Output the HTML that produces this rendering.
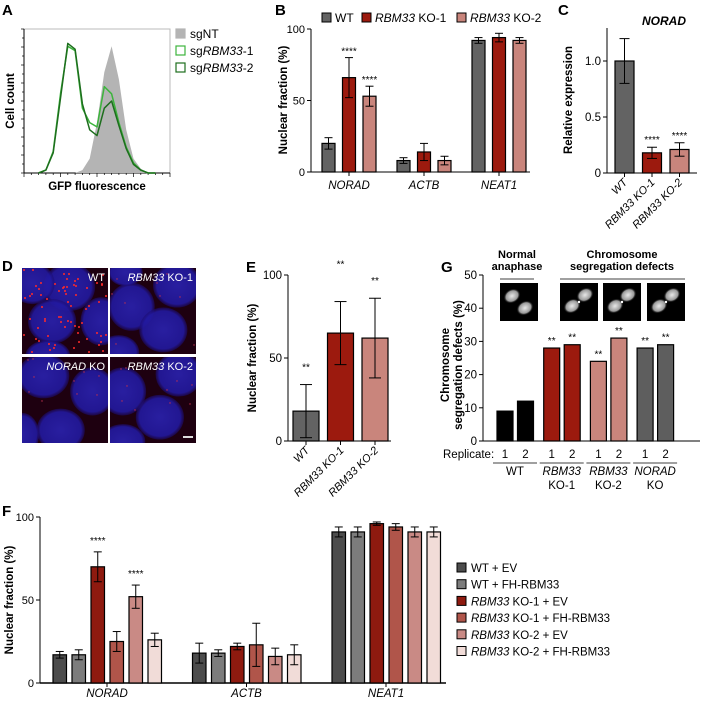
<!DOCTYPE html>
<html><head><meta charset="utf-8"><style>
html,body{margin:0;padding:0;background:#fff;}
svg{display:block;font-family:"Liberation Sans",Arial,sans-serif;}
</style></head><body>
<svg id="fig" width="704" height="702" viewBox="0 0 704 702" xmlns="http://www.w3.org/2000/svg">
<defs>
<radialGradient id="nuc" cx="50%" cy="50%" r="50%"><stop offset="0" stop-color="#2a22b0"/><stop offset="0.85" stop-color="#2219a0"/><stop offset="1" stop-color="#1c0c70" stop-opacity="0.6"/></radialGradient>
<radialGradient id="chr" cx="50%" cy="50%" r="50%"><stop offset="0" stop-color="#e8e8e8"/><stop offset="0.7" stop-color="#9a9a9a"/><stop offset="1" stop-color="#000" stop-opacity="0"/></radialGradient>
</defs>
<g font-weight="bold" font-size="15">
<text x="2" y="15">A</text>
<text x="275" y="15">B</text>
<text x="558" y="15">C</text>
<text x="2" y="271">D</text>
<text x="246" y="272">E</text>
<text x="441" y="272">G</text>
<text x="2" y="516">F</text>
</g>
</svg>
<script>
// ---------- data ----------
const aBins = [50,55,60,65,70,75,80,85,90,95,100,105,110,115,120,125,130];
const aSgNT = [0,0,0,0,0,0,2,10,35,70,88,65,30,10,3,0,0];
const aSg1  = [0,2,15,55,88,85,45,35,32,60,55,35,18,7,2,0,0];
const aSg2  = [0,2,14,52,90,86,48,30,26,45,50,33,17,6,2,0,0];

const bGenes = ['NORAD','ACTB','NEAT1'];
const bWT  = [20,8,92];
const bKO1 = [66,14,94];
const bKO2 = [53,8,92];
const bErrWT  = [4,2,2];
const bErrKO1 = [14,6,3];
const bErrKO2 = [7,3,2];
const bTicks = [0,50,100];

const cCats = ['WT','RBM33 KO-1','RBM33 KO-2'];
const cVals = [1.0,0.18,0.21];
const cErr  = [0.2,0.05,0.06];
const cTicks = [0,0.5,1.0];
const cTickLabels = ['0','0.5','1.0'];

const eCats = ['WT','RBM33 KO-1','RBM33 KO-2'];
const eVals = [18,65,62];
const eErr  = [16,19,24];
const eTicks = [0,50,100];

const gGroups = ['WT','RBM33 KO-1','RBM33 KO-2','NORAD KO'];
const gRep1 = [9,28,24,28];
const gRep2 = [12,29,31,29];
const gStar1 = ['','**','**','**'];
const gStar2 = ['','**','**','**'];
const gTicks = [0,10,20,30,40,50];

const fGenes = ['NORAD','ACTB','NEAT1'];
const fSeries = ['WT + EV','WT + FH-RBM33','RBM33 KO-1 + EV','RBM33 KO-1 + FH-RBM33','RBM33 KO-2 + EV','RBM33 KO-2 + FH-RBM33'];
const fNORAD = [17,17,70,25,52,26];
const fACTB  = [18,18,22,23,16,17];
const fNEAT1 = [91,91,96,94,91,91];
const fErrNORAD = [2,3,9,6,7,4];
const fErrACTB  = [6,2,2,13,5,6];
const fErrNEAT1 = [3,3,1,2,3,3];
const fTicks = [0,50,100];

// ---------- helpers ----------
const NS='http://www.w3.org/2000/svg';
const svg=document.getElementById('fig');
function mk(tag,attrs,parent){const e=document.createElementNS(NS,tag);for(const k in attrs)e.setAttribute(k,attrs[k]);(parent||svg).appendChild(e);return e;}
function line(x1,y1,x2,y2,name,w){const l=mk('line',{x1,y1,x2,y2,stroke:'#000','stroke-width':w||1});


return l;}
function txt(x,y,s,name,opt){const t=mk('text',Object.assign({x,y,'font-size':11},opt||{}));t.textContent=s;


return t;}
function richTxt(x,y,parts,name,opt){const t=mk('text',Object.assign({x,y,'font-size':11},opt||{}));
parts.forEach(p=>{const ts=mk('tspan',p[1]?{'font-style':'italic'}:{},t);ts.textContent=p[0];});


return t;}
function bar(x,y0,y1,w,fill,name){const r=mk('rect',{x,y:Math.min(y0,y1),width:w,height:Math.abs(y1-y0),fill,stroke:'#000','stroke-width':1.2});


return r;}
function err(cx,yLo,yHi,cap,name){const g=mk('g',{});


mk('line',{x1:cx,y1:yLo,x2:cx,y2:yHi,stroke:'#000','stroke-width':1},g);
mk('line',{x1:cx-cap,y1:yHi,x2:cx+cap,y2:yHi,stroke:'#000','stroke-width':1},g);
mk('line',{x1:cx-cap,y1:yLo,x2:cx+cap,y2:yLo,stroke:'#000','stroke-width':1},g);return g;}
function label(lbl){const it=lbl.startsWith('RBM33')||lbl.startsWith('NORAD');if(!it)return [[lbl,false]];const i=lbl.indexOf(' ');return [[lbl.slice(0,i),true],[lbl.slice(i),false]];}

// ---------- Panel A ----------
(function(){
const x0=24,x1=170,yb=173,yt=29;
const xA=v=>x0+(v-40)/(140-40)*(x1-x0);
const yA=v=>yb-v/100*(yb-yt);
const box=mk('rect',{x:x0,y:yt,width:x1-x0,height:yb-yt,fill:'none',stroke:'#bbb','stroke-width':1});


line(x0,yt,x0,yb,'a-y-axis');line(x0,yb,x1,yb,'a-x-axis');
for(let i=0;i<=16;i++){line(x0-(i%2?2:3),yt+i*9,x0,yt+i*9,'a-y-tick',0.7);}
for(let i=0;i<=20;i++){const xx=x0+i*7.3;line(xx,yb,xx,yb+(i%5==0?4:2),'a-x-tick',0.7);}
function pathOf(vals){let d='';vals.forEach((v,i)=>{d+=(i?'L':'M')+xA(aBins[i]).toFixed(1)+','+yA(v).toFixed(1);});return d;}
const pg=mk('path',{d:pathOf(aSgNT)+'L'+xA(aBins[aBins.length-1])+','+yb+'L'+xA(aBins[0])+','+yb+'Z',fill:'#b4b4b4',stroke:'none'});


const p1=mk('path',{d:pathOf(aSg1),fill:'none',stroke:'#3cb43c','stroke-width':1.5,'stroke-linejoin':'round'});


const p2=mk('path',{d:pathOf(aSg2),fill:'none',stroke:'#1d6e1d','stroke-width':1.5,'stroke-linejoin':'round'});


txt(97,190,'GFP fluorescence','a-x-axis-title',{'font-weight':'bold','text-anchor':'middle','font-size':11.5});
txt(0,0,'Cell count','a-y-axis-title',{'font-weight':'bold','text-anchor':'middle','font-size':11.5,transform:'translate(14,101) rotate(-90)'});
const leg=[['sgNT','#b4b4b4',true],['sgRBM33-1','#3cb43c',false],['sgRBM33-2','#1d6e1d',false]];
leg.forEach((l,i)=>{const y=29+i*17;const r=mk('rect',{x:176,y:y,width:9,height:9,fill:l[2]?l[1]:'#fff',stroke:l[1],'stroke-width':1.2});


richTxt(190,y+9,i==0?[['sgNT',false]]:[['sg',false],['RBM33',true],['-'+(i),false]],'a-legend-entry',{'font-size':12});});
})();

// ---------- Panel B ----------
(function(){
const ax=311,y0=172,yB=v=>y0-v*1.43;
line(ax,yB(100),ax,y0,'b-y-axis');line(ax,y0,530,y0,'b-x-axis');
bTicks.forEach(t=>{line(ax-4,yB(t),ax,yB(t),'b-y-tick');txt(ax-6,yB(t)+4,String(t),'b-y-tick-label',{'text-anchor':'end'});});
txt(0,0,'Nuclear fraction (%)','b-y-axis-title',{'font-weight':'bold','text-anchor':'middle','font-size':11.5,transform:'translate(287,100) rotate(-90)'});
const series=[[bWT,bErrWT,'#636363'],[bKO1,bErrKO1,'#9c1a0e'],[bKO2,bErrKO2,'#c9857c']];
bGenes.forEach((g,gi)=>{
 series.forEach((s,si)=>{const x=322+gi*75+si*20.5;bar(x,y0,yB(s[0][gi]),13,s[2],'b-bar-'+g.toLowerCase());
 err(x+6.5,yB(s[0][gi]-s[1][gi]),yB(s[0][gi]+s[1][gi]),4,'b-error-bar');});
 line(322+gi*75+27,y0,322+gi*75+27,y0+4,'b-x-tick');
 txt(322+gi*75+27,y0+17,g,'b-x-label',{'font-style':'italic','text-anchor':'middle','font-size':11.5});
});
txt(322+20.5+6.5,yB(bKO1[0]+bErrKO1[0])-3,'****','b-significance',{'text-anchor':'middle','font-size':10});
txt(322+41+6.5,yB(bKO2[0]+bErrKO2[0])-3,'****','b-significance',{'text-anchor':'middle','font-size':10});
const leg=[[[['WT',false]],'#636363',322],[[['RBM33',true],[' KO-1',false]],'#9c1a0e',362],[[['RBM33',true],[' KO-2',false]],'#c9857c',457]];
leg.forEach(l=>{const r=mk('rect',{x:l[2],y:13,width:9,height:9,fill:l[1],stroke:'#000','stroke-width':1});


richTxt(l[2]+13,22,l[0],'b-legend-entry',{'font-size':12});});
})();

// ---------- Panel C ----------
(function(){
const ax=607,y0=173,yC=v=>y0-v*112;
line(ax,28,ax,y0,'c-y-axis');line(ax,y0,697,y0,'c-x-axis');
cTicks.forEach((t,i)=>{line(ax-4,yC(t),ax,yC(t),'c-y-tick');txt(ax-6,yC(t)+4,cTickLabels[i],'c-y-tick-label',{'text-anchor':'end','font-size':11.5});});
txt(0,0,'Relative expression','c-y-axis-title',{'font-weight':'bold','text-anchor':'middle','font-size':11.5,transform:'translate(572,100) rotate(-90)'});
txt(664,25,'NORAD','c-title',{'font-weight':'bold','font-style':'italic','text-anchor':'middle','font-size':12});
const cols=['#636363','#9c1a0e','#c9857c'];
cCats.forEach((c,i)=>{const x=615+i*27.5;bar(x,y0,yC(cVals[i]),19,cols[i],'c-bar');
err(x+9.5,yC(cVals[i]-cErr[i]),yC(cVals[i]+cErr[i]),5,'c-error-bar');
line(x+9.5,y0,x+9.5,y0+4,'c-x-tick');
txt(0,0,c,'c-x-label',{'font-style':'italic','text-anchor':'end','font-size':11,transform:'translate('+(x+13)+','+(y0+10)+') rotate(-45)'});
if(i>0)txt(x+9.5,yC(cVals[i]+cErr[i])-4,'****','c-significance',{'text-anchor':'middle','font-size':10});});
})();

// ---------- Panel D ----------
(function(){
const tiles=[[22,268,'WT',true],[110,268,'RBM33 KO-1',false],[22,357,'NORAD KO',false],[110,357,'RBM33 KO-2',false]];
const layouts=[
 [[0.55,0.22,0.3,0.28],[0.12,0.18,0.26,0.24],[0.35,0.62,0.28,0.26],[0.92,0.62,0.24,0.28],[0.3,1.02,0.26,0.18]],
 [[0.25,0.45,0.27,0.28],[0.78,0.2,0.28,0.26],[0.62,0.72,0.28,0.26],[0.1,0.98,0.24,0.2],[0.18,0.05,0.2,0.16]],
 [[0.25,0.22,0.3,0.26],[0.82,0.4,0.26,0.28],[0.45,0.85,0.28,0.25],[0.0,0.9,0.2,0.25]],
 [[0.15,0.4,0.27,0.28],[0.8,0.2,0.27,0.26],[0.58,0.7,0.28,0.26],[0.15,0.98,0.26,0.2]]];
tiles.forEach((t,ti)=>{const g=mk('g',{});


const w=86,h=86;
mk('rect',{x:t[0],y:t[1],width:w,height:h,fill:'#1e0010'},g);
const cp=mk('clipPath',{id:'cp'+ti},g);mk('rect',{x:t[0],y:t[1],width:w,height:h},cp);
const gg=mk('g',{'clip-path':'url(#cp'+ti+')'},g);
layouts[ti].forEach(n=>{mk('ellipse',{cx:t[0]+n[0]*w,cy:t[1]+n[1]*h,rx:n[2]*w,ry:n[3]*h,fill:'url(#nuc)',opacity:0.9},gg);});
const nd=t[3]?70:10;
for(let k=0;k<nd;k++){const px=t[0]+((k*k*37+k*13+ti*5)%83)+2,py=t[1]+((k*k*17+k*61+ti*9)%83)+2;mk('circle',{cx:px,cy:py,r:t[3]?1:0.7,fill:t[3]?'#ff2a2a':'#c03050'},gg);}
richTxt(t[0]+w-3,t[1]+13,label(t[2]),'d-image-label',{'text-anchor':'end',fill:'#fff','font-size':11});});
const sb=mk('rect',{x:183,y:436,width:10,height:2,fill:'#ddd'});


})();

// ---------- Panel E ----------
(function(){
const ax=288,y0=441,yE=v=>y0-v*1.66;
line(ax,yE(100),ax,y0,'e-y-axis');line(ax,y0,391,y0,'e-x-axis');
eTicks.forEach(t=>{line(ax-4,yE(t),ax,yE(t),'e-y-tick');txt(ax-6,yE(t)+4,String(t),'e-y-tick-label',{'text-anchor':'end','font-size':11.5});});
txt(0,0,'Nuclear fraction (%)','e-y-axis-title',{'font-weight':'bold','text-anchor':'middle','font-size':11.5,transform:'translate(256,358) rotate(-90)'});
const cols=['#636363','#9c1a0e','#c9857c'];
eCats.forEach((c,i)=>{const x=293+i*34.5;bar(x,y0,yE(eVals[i]),26,cols[i],'e-bar');
err(x+13,yE(eVals[i]-eErr[i]),yE(eVals[i]+eErr[i]),6,'e-error-bar');
line(x+13,y0,x+13,y0+4,'e-x-tick');
txt(0,0,c,'e-x-label',{'font-style':'italic','text-anchor':'end','font-size':11,transform:'translate('+(x+17)+','+(y0+10)+') rotate(-45)'});
txt(x+13,yE(eVals[i]+eErr[i])-(i==1?34:14),'**','e-significance',{'text-anchor':'middle','font-size':10});});
})();

// ---------- Panel G ----------
(function(){
const ax=483,y0=441,yG=v=>y0-v*3.32;
line(ax,yG(50),ax,y0,'g-y-axis');line(ax,y0,700,y0,'g-x-axis');
gTicks.forEach(t=>{line(ax-4,yG(t),ax,yG(t),'g-y-tick');txt(ax-6,yG(t)+4,String(t),'g-y-tick-label',{'text-anchor':'end','font-size':11.5});});
txt(0,0,'Chromosome','g-y-axis-title',{'font-weight':'bold','text-anchor':'middle','font-size':11.5,transform:'translate(449,365) rotate(-90)'});
txt(0,0,'segregation defects (%)','g-y-axis-title',{'font-weight':'bold','text-anchor':'middle','font-size':11.5,transform:'translate(462,365) rotate(-90)'});
const cols=['#000000','#9c1a0e','#c9857c','#5e5e5e'];
txt(443,458,'Replicate:','g-replicate-label',{'font-size':11.5});
gGroups.forEach((g,gi)=>{const gx=497+gi*46.7;
[[gRep1,gStar1],[gRep2,gStar2]].forEach((s,ri)=>{const x=gx+ri*20.5;bar(x,y0,yG(s[0][gi]),16,cols[gi],'g-bar');
if(s[1][gi])txt(x+8,yG(s[0][gi])-4,s[1][gi],'g-significance',{'text-anchor':'middle','font-size':10});
txt(x+8,458,String(ri+1),'g-replicate-number',{'text-anchor':'middle','font-size':11.5});});
line(gx-4,463,gx+40,463,'g-group-line',0.8);
const parts=g.split(' ');
if(parts.length==1)txt(gx+18,475,g,'g-group-label',{'text-anchor':'middle','font-size':11.5});
else{const first=g.slice(0,g.lastIndexOf(' ')),second=g.slice(g.lastIndexOf(' ')+1);
txt(gx+18,475,first,'g-group-label',{'text-anchor':'middle','font-size':11.5,'font-style':'italic'});
txt(gx+18,489,second,'g-group-label',{'text-anchor':'middle','font-size':11.5});}});
txt(517,258,'Normal','g-header-normal',{'font-weight':'bold','text-anchor':'middle','font-size':11});
txt(517,270,'anaphase','g-header-normal',{'font-weight':'bold','text-anchor':'middle','font-size':11});
txt(622,258,'Chromosome','g-header-defects',{'font-weight':'bold','text-anchor':'middle','font-size':11});
txt(622,270,'segregation defects','g-header-defects',{'font-weight':'bold','text-anchor':'middle','font-size':11});
line(500,279,534,279,'g-header-line',0.8);line(560,279,685,279,'g-header-line',0.8);
[500,560,603,647].forEach((x,i)=>{const g=mk('g',{});


mk('rect',{x:x,y:283,width:38,height:38,fill:'#000'},g);
mk('ellipse',{cx:x+12,cy:i==0?296:306,rx:9,ry:7,fill:'url(#chr)',transform:'rotate(-30 '+(x+12)+' '+(i==0?296:306)+')'},g);
mk('ellipse',{cx:x+25,cy:i==0?308:295,rx:9,ry:7,fill:'url(#chr)',transform:'rotate(-30 '+(x+25)+' '+(i==0?308:295)+')'},g);
if(i>0)mk('circle',{cx:x+19,cy:302,r:1.2,fill:'#fff'},g);});
})();

// ---------- Panel F ----------
(function(){
const ax=40,y0=683,yF=v=>y0-v*1.66;
line(ax,yF(100),ax,y0,'f-y-axis');line(ax,y0,446,y0,'f-x-axis',1.5);
fTicks.forEach(t=>{line(ax-4,yF(t),ax,yF(t),'f-y-tick');txt(ax-6,yF(t)+4,String(t),'f-y-tick-label',{'text-anchor':'end','font-size':11});});
txt(0,0,'Nuclear fraction (%)','f-y-axis-title',{'font-weight':'bold','text-anchor':'middle','font-size':11.5,transform:'translate(13,600) rotate(-90)'});
const cols=['#4c4c4c','#7c7c7c','#8e1a0f','#b0554a','#c98a85','#f1dcd8'];
const vals=[fNORAD,fACTB,fNEAT1],errs=[fErrNORAD,fErrACTB,fErrNEAT1];
fGenes.forEach((g,gi)=>{const gx=53+gi*139.5;
vals[gi].forEach((v,i)=>{const x=gx+i*19;bar(x,y0,yF(v),13.5,cols[i],'f-bar-'+g.toLowerCase());
err(x+6.75,yF(v-errs[gi][i]),yF(v+errs[gi][i]),4,'f-error-bar');});
line(gx+54,y0,gx+54,y0+4,'f-x-tick');
txt(gx+54,y0+14,g,'f-x-label',{'font-style':'italic','text-anchor':'middle','font-size':11.5});});
txt(53+2*19+6.75,yF(fNORAD[2]+fErrNORAD[2])-8,'****','f-significance',{'text-anchor':'middle','font-size':10});
txt(53+4*19+6.75,yF(fNORAD[4]+fErrNORAD[4])-8,'****','f-significance',{'text-anchor':'middle','font-size':10});
fSeries.forEach((s,i)=>{const y=563+i*16.7;const r=mk('rect',{x:457,y:y,width:9,height:9,fill:cols[i],stroke:'#000','stroke-width':1});


richTxt(471,y+9,label(s),'f-legend-entry',{'font-size':11.5});});
})();
</script>
</body></html>
